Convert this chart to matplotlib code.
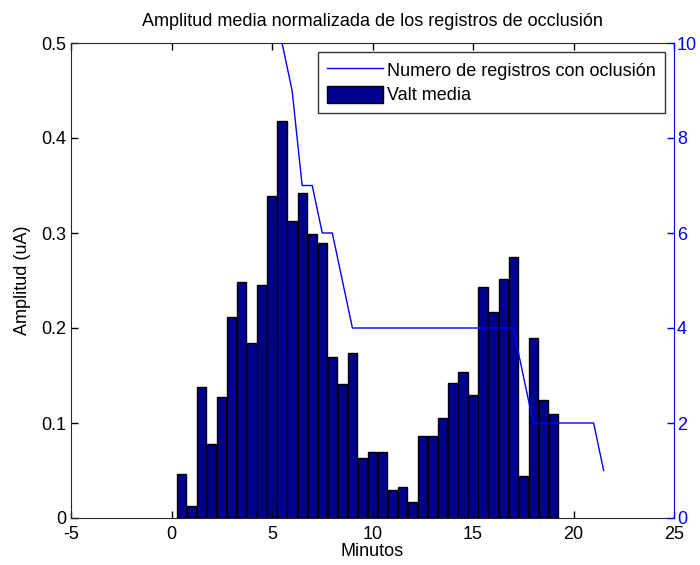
import numpy as np
import matplotlib
matplotlib.use('Agg')
import matplotlib.pyplot as plt

plt.rcParams['font.family'] = ['Liberation Sans', 'DejaVu Sans']
plt.rcParams['axes.unicode_minus'] = False

# mean normalised amplitude per half-minute bin
minutos = [0.5, 1.0, 1.5, 2.0, 2.5, 3.0, 3.5, 4.0, 4.5, 5.0,
           5.5, 6.0, 6.5, 7.0, 7.5, 8.0, 8.5, 9.0, 9.5, 10.0,
           10.5, 11.0, 11.5, 12.0, 12.5, 13.0, 13.5, 14.0, 14.5, 15.0,
           15.5, 16.0, 16.5, 17.0, 17.5, 18.0, 18.5, 19.0]
amplitud = [0.046, 0.013, 0.138, 0.078, 0.127, 0.212, 0.248, 0.184, 0.245, 0.339,
            0.418, 0.313, 0.342, 0.299, 0.290, 0.169, 0.141, 0.174, 0.063, 0.069,
            0.069, 0.029, 0.033, 0.017, 0.086, 0.086, 0.105, 0.142, 0.154, 0.129,
            0.243, 0.217, 0.252, 0.275, 0.044, 0.190, 0.124, 0.109]

# number of recordings still showing occlusion
reg_x = [5.5, 6.0, 6.5, 7.0, 7.5, 8.0, 8.5, 9.0, 17.0, 18.0, 21.0, 21.5]
reg_n = [10, 9, 7, 7, 6, 6, 5, 4, 4, 2, 2, 1]

xticks = [-5, 0, 5, 10, 15, 20, 25]
yticks = [0, 0.1, 0.2, 0.3, 0.4, 0.5]
ylabels = ['0', '0.1', '0.2', '0.3', '0.4', '0.5']
y2ticks = [0, 2, 4, 6, 8, 10]

FS = 13
fig = plt.figure(figsize=(7, 5.65), dpi=100)
ax = fig.add_axes([71 / 700, 47 / 565, 603 / 700, 475 / 565])
ax2 = ax.twinx()

bars = ax.bar(minutos, amplitud, width=0.46, color=(0, 0, 0.56),
              edgecolor='k', linewidth=1, label='Valt media')
line, = ax2.plot(reg_x, reg_n, color='b', lw=1,
                 label='Numero de registros con oclusión')

ax.set_xlim(-5, 25)
ax.set_ylim(0, 0.5)
ax.set_xticks(xticks)
ax.set_xticklabels([str(t) for t in xticks])
ax.set_yticks(yticks)
ax.set_yticklabels(ylabels)
ax.tick_params(axis='both', direction='in', length=5, width=1, labelsize=FS,
               top=True, right=False, colors='k')
ax.tick_params(axis='x', pad=6)
ax.spines['right'].set_visible(False)
for s in ['left', 'bottom', 'top']:
    ax.spines[s].set_color('0.15')

ax2.set_ylim(0, 10)
ax2.set_yticks(y2ticks)
ax2.set_yticklabels([str(t) for t in y2ticks])
ax2.tick_params(axis='y', direction='in', length=5, width=1, labelsize=FS,
                colors='b', pad=2)
for s in ['left', 'bottom', 'top']:
    ax2.spines[s].set_visible(False)
ax2.spines['right'].set_color('b')

ax.set_xlabel('Minutos', fontsize=FS, labelpad=0)
ax.set_ylabel('Amplitud (uA)', fontsize=FS, labelpad=7)
ax.set_title('Amplitud media normalizada de los registros de occlusión',
             fontsize=FS, pad=12)

leg = ax2.legend([line, bars], [line.get_label(), 'Valt media'],
                 loc='upper right', bbox_to_anchor=(665 / 700, 1 - 52 / 565),
                 bbox_transform=fig.transFigure, borderaxespad=0,
                 fontsize=FS, frameon=True, fancybox=False,
                 handlelength=3.1, handleheight=1.05, handletextpad=0.25,
                 labelspacing=0.35, borderpad=0.5)
leg.get_frame().set_edgecolor('k')
leg.get_frame().set_linewidth(1)

fig.savefig('out.png', dpi=100)
